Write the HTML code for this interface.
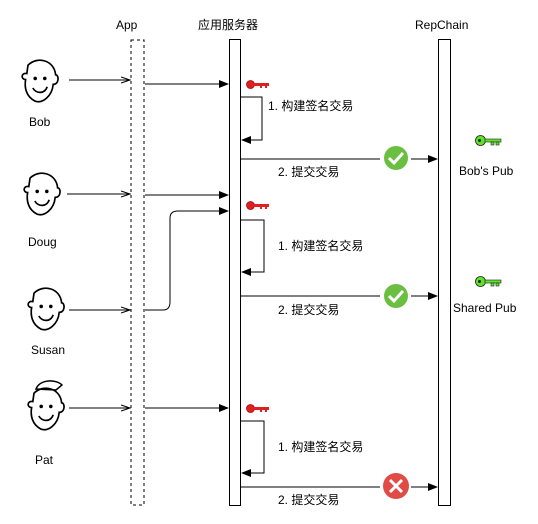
<!DOCTYPE html>
<html><head><meta charset="utf-8"><style>
body{margin:0;background:#fff;}
svg text{font-family:"Liberation Sans","Noto Sans CJK SC",sans-serif;font-size:12px;fill:#000;}
</style></head><body>
<svg width="538" height="519" viewBox="0 0 538 519" xmlns="http://www.w3.org/2000/svg">
<defs>
<marker id="a" markerWidth="10" markerHeight="8" refX="9" refY="4" orient="auto" markerUnits="userSpaceOnUse"><path d="M0,0 L10,4 L0,8z" fill="#000"/></marker>
<marker id="o" markerWidth="10" markerHeight="8" refX="9" refY="4" orient="auto" markerUnits="userSpaceOnUse"><path d="M0,1 L9,4 L0,7" fill="none" stroke="#000"/></marker>
<g id="rk"><circle cx="4.5" cy="4.5" r="4" fill="#e02020" stroke="#900" stroke-width="0.7"/><rect x="8" y="3" width="15" height="3" fill="#e02020"/><rect x="14" y="5" width="2" height="3" fill="#e02020"/><rect x="19" y="5" width="2" height="3" fill="#e02020"/></g>
<g id="gk"><circle cx="5.5" cy="5.5" r="5" fill="#5fe32a" stroke="#222" stroke-width="0.8"/><circle cx="4.5" cy="5.5" r="1.5" fill="#222"/><rect x="10" y="4" width="16" height="3" fill="#5fe32a" stroke="#222" stroke-width="0.6"/><rect x="16" y="7" width="3" height="3" fill="#5fe32a" stroke="#222" stroke-width="0.6"/><rect x="21" y="7" width="3" height="3" fill="#5fe32a" stroke="#222" stroke-width="0.6"/></g>
<g id="face" fill="none" stroke="#000" stroke-width="1.4" transform="scale(1.2)"><path d="M-10,-14 C-2,-22 12,-18 13,-6 C16,-6 16,2 11,2 C10,12 2,18 -4,16 C-12,12 -13,4 -12,-2 C-16,-2 -16,-8 -11,-7 Z"/><circle cx="-4" cy="-3" r="0.8" fill="#000"/><circle cx="4" cy="-3" r="0.8" fill="#000"/><path d="M-6,5 C-3,10 4,10 6,4"/></g>
</defs>
<text x="116" y="29">App</text>
<text x="198" y="29">应用服务器</text>
<text x="415" y="29">RepChain</text>
<rect x="131" y="40" width="13" height="465" fill="#fff" stroke="#000" stroke-dasharray="3,3"/>
<rect x="229.5" y="39.5" width="11" height="466" fill="#fff" stroke="#000"/>
<rect x="438.5" y="39.5" width="12" height="466" fill="#fff" stroke="#000"/>
<use href="#face" x="40" y="82"/><text x="29" y="126">Bob</text>
<use href="#face" x="42" y="195"/><text x="28" y="246">Doug</text>
<use href="#face" x="46" y="310"/><text x="31" y="354">Susan</text>
<use href="#face" x="46" y="410"/><path d="M36,389 C40,379 56,379 62,385 L56,390 Z" fill="none" stroke="#000" stroke-width="1.5"/><text x="35" y="464">Pat</text>
<g stroke="#000" fill="none">
<line x1="69" y1="80" x2="130" y2="80" marker-end="url(#o)"/>
<line x1="67" y1="194" x2="130" y2="194" marker-end="url(#o)"/>
<line x1="69" y1="310" x2="130" y2="310" marker-end="url(#o)"/>
<line x1="69" y1="408" x2="130" y2="408" marker-end="url(#o)"/>
<line x1="145" y1="84" x2="228" y2="84" marker-end="url(#a)"/>
<line x1="145" y1="195" x2="228" y2="195" marker-end="url(#a)"/>
<path d="M145,310 L163,310 Q170,310 170,302 L170,218 Q170,211 178,211 L228,211" marker-end="url(#a)"/>
<line x1="145" y1="408" x2="228" y2="408" marker-end="url(#a)"/>
<path d="M241,97 L262,97 L262,140 L242,140" marker-end="url(#a)"/>
<path d="M241,220 L264,220 L264,272 L242,272" marker-end="url(#a)"/>
<path d="M241,421 L264,421 L264,473 L242,473" marker-end="url(#a)"/>
<line x1="241" y1="159" x2="380" y2="159"/><line x1="411" y1="159" x2="437" y2="159" marker-end="url(#a)"/>
<line x1="241" y1="296" x2="380" y2="296"/><line x1="411" y1="296" x2="437" y2="296" marker-end="url(#a)"/>
<line x1="241" y1="487" x2="380" y2="487"/><line x1="411" y1="487" x2="437" y2="487" marker-end="url(#a)"/>
</g>
<circle cx="396" cy="158" r="12" fill="#6abf40"/><path d="M389,158 L394,163 L403,153" stroke="#fff" stroke-width="3" fill="none"/>
<circle cx="396" cy="296" r="12" fill="#6abf40"/><path d="M389,296 L394,301 L403,291" stroke="#fff" stroke-width="3" fill="none"/>
<circle cx="396" cy="486" r="13" fill="#e04b45"/><path d="M390,480 L402,492 M402,480 L390,492" stroke="#fff" stroke-width="3"/>
<use href="#rk" x="246" y="80"/><use href="#rk" x="246" y="201"/><use href="#rk" x="246" y="404"/>
<use href="#gk" x="475" y="135"/><use href="#gk" x="475" y="276"/>
<text x="268" y="110">1. 构建签名交易</text>
<text x="278" y="176">2. 提交交易</text>
<text x="278" y="250">1. 构建签名交易</text>
<text x="278" y="314">2. 提交交易</text>
<text x="278" y="451">1. 构建签名交易</text>
<text x="278" y="504">2. 提交交易</text>
<text x="459" y="175">Bob's Pub</text>
<text x="453" y="312">Shared Pub</text>
</svg>
</body></html>
